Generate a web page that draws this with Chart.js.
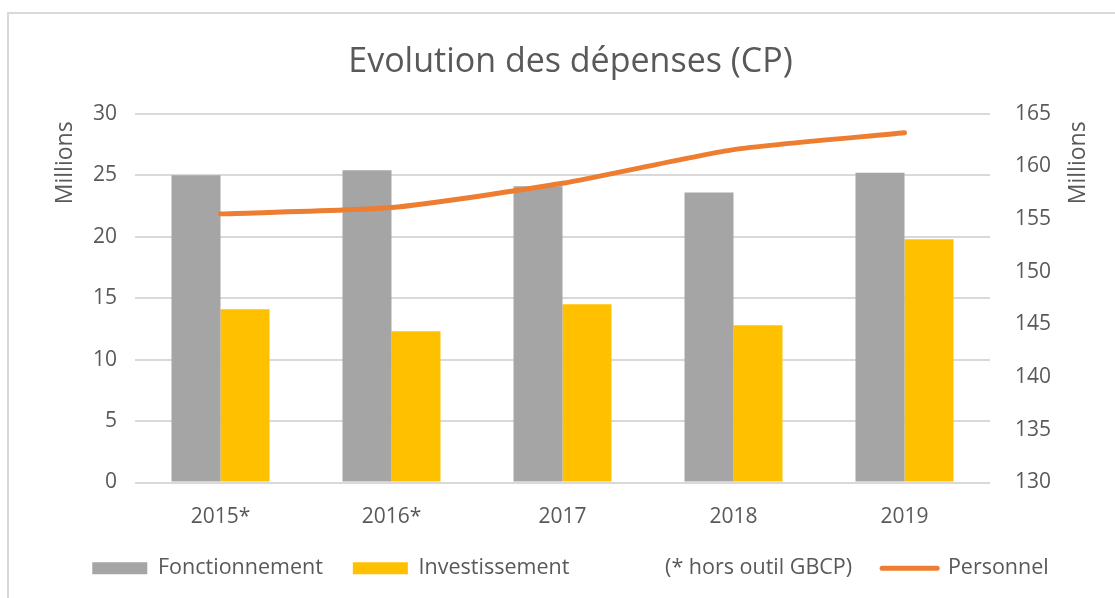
<!DOCTYPE html>
<html>
<head>
<meta charset="utf-8">
<title>Evolution des dépenses (CP)</title>
<script src="https://cdn.jsdelivr.net/npm/chart.js@4"></script>
<style>
  html, body { margin: 0; padding: 0; background: #fff; }
  #wrap { width: 1115px; height: 598px; }
</style>
</head>
<body>
<div id="wrap"><canvas id="depenses" width="1115" height="598"></canvas></div>
<script>
// values, in millions
const years = ['2015*', '2016*', '2017', '2018', '2019'];
const fonctionnement = [25.0, 25.4, 24.1, 23.6, 25.2];
const investissement = [14.1, 12.3, 14.5, 12.8, 19.8];
const personnel = [155.5, 156.1, 158.4, 161.6, 163.2];
const leftTicks = [0, 30, 5];      // min, max, step
const rightTicks = [130, 165, 5];
const noteText = '(* hors outil GBCP)';

const GREY = '#A5A5A5';
const YELLOW = '#FFC000';
const ORANGE = '#ED7D31';
const TEXT = '#595959';
const GRID = '#D9D9D9';
const FONT = '"Open Sans", "Noto Sans", sans-serif';

// frame round the chart and the two "Millions" unit labels
const extras = {
  id: 'extras',
  beforeDraw(chart) {
    const ctx = chart.ctx;
    ctx.save();
    ctx.fillStyle = '#fff';
    ctx.fillRect(0, 0, chart.width, chart.height);
    ctx.strokeStyle = GRID;
    ctx.lineWidth = 2;
    ctx.strokeRect(8, 13, chart.width + 20, chart.height + 20);
    ctx.restore();
  },
  afterDraw(chart) {
    const { ctx, chartArea } = chart;
    ctx.save();
    ctx.font = '23px ' + FONT;
    ctx.fillStyle = TEXT;
    ctx.textAlign = 'center';
    ctx.textBaseline = 'middle';
    const y = chartArea.top + 49;
    [chartArea.left - 70, chartArea.right + 88].forEach(x => {
      ctx.save();
      ctx.translate(x, y);
      ctx.rotate(-Math.PI / 2);
      ctx.fillText('Millions', 0, 0);
      ctx.restore();
    });
    ctx.restore();
  }
};

const ctx = document.getElementById('depenses').getContext('2d');

new Chart(ctx, {
  type: 'bar',
  data: {
    labels: years,
    datasets: [
      {
        label: 'Fonctionnement',
        data: fonctionnement,
        backgroundColor: GREY,
        barPercentage: 1,
        categoryPercentage: 0.573,
        yAxisID: 'y',
        order: 2
      },
      {
        label: 'Investissement',
        data: investissement,
        backgroundColor: YELLOW,
        barPercentage: 1,
        categoryPercentage: 0.573,
        yAxisID: 'y',
        order: 2
      },
      {
        type: 'line',
        label: 'Personnel',
        data: personnel,
        borderColor: ORANGE,
        backgroundColor: ORANGE,
        borderWidth: 5,
        borderCapStyle: 'round',
        pointRadius: 0,
        tension: 0.2,
        yAxisID: 'y1',
        order: 0
      }
    ]
  },
  options: {
    responsive: false,
    devicePixelRatio: 1,
    animation: false,
    // the original is centred a little right of the cropped picture
    layout: { padding: { top: 0, left: 26, right: 0, bottom: 9 } },
    plugins: {
      title: {
        display: true,
        text: 'Evolution des dépenses (CP)',
        color: TEXT,
        font: { family: FONT, size: 34, weight: 'normal' },
        padding: { top: 42, bottom: 31 }
      },
      tooltip: { enabled: false },
      legend: {
        position: 'bottom',
        labels: {
          usePointStyle: true,
          pointStyleWidth: 55,
          boxHeight: 12,
          padding: 30,
          color: TEXT,
          font: { family: FONT, size: 21.5 },
          generateLabels: () => [
            { text: 'Fonctionnement', fillStyle: GREY, strokeStyle: GREY, lineWidth: 0, pointStyle: 'rect', fontColor: TEXT, datasetIndex: 0 },
            { text: 'Investissement', fillStyle: YELLOW, strokeStyle: YELLOW, lineWidth: 0, pointStyle: 'rect', fontColor: TEXT, datasetIndex: 1 },
            { text: noteText, fillStyle: 'rgba(0,0,0,0)', strokeStyle: 'rgba(0,0,0,0)', lineWidth: 0, pointStyle: 'rect', fontColor: TEXT },
            { text: 'Personnel', fillStyle: ORANGE, strokeStyle: ORANGE, lineWidth: 5, lineCap: 'round', pointStyle: 'line', fontColor: TEXT, datasetIndex: 2 }
          ]
        }
      }
    },
    scales: {
      x: {
        grid: { display: false, drawTicks: false },
        border: { display: false },
        ticks: { color: TEXT, font: { family: FONT, size: 21 }, padding: 22 },
        afterFit: s => { s.height = 45; }
      },
      y: {
        position: 'left',
        min: leftTicks[0],
        max: leftTicks[1],
        ticks: { stepSize: leftTicks[2], color: TEXT, font: { family: FONT, size: 21 }, padding: 18 },
        grid: { color: GRID, lineWidth: 2, drawTicks: false },
        border: { display: false },
        afterFit: s => { s.width = 109; }
      },
      y1: {
        position: 'right',
        min: rightTicks[0],
        max: rightTicks[1],
        ticks: { stepSize: rightTicks[2], color: TEXT, font: { family: FONT, size: 21 }, padding: 25 },
        grid: { display: false, drawTicks: false },
        border: { display: false },
        afterFit: s => { s.width = 125; }
      }
    }
  },
  plugins: [extras]
});
</script>
</body>
</html>
